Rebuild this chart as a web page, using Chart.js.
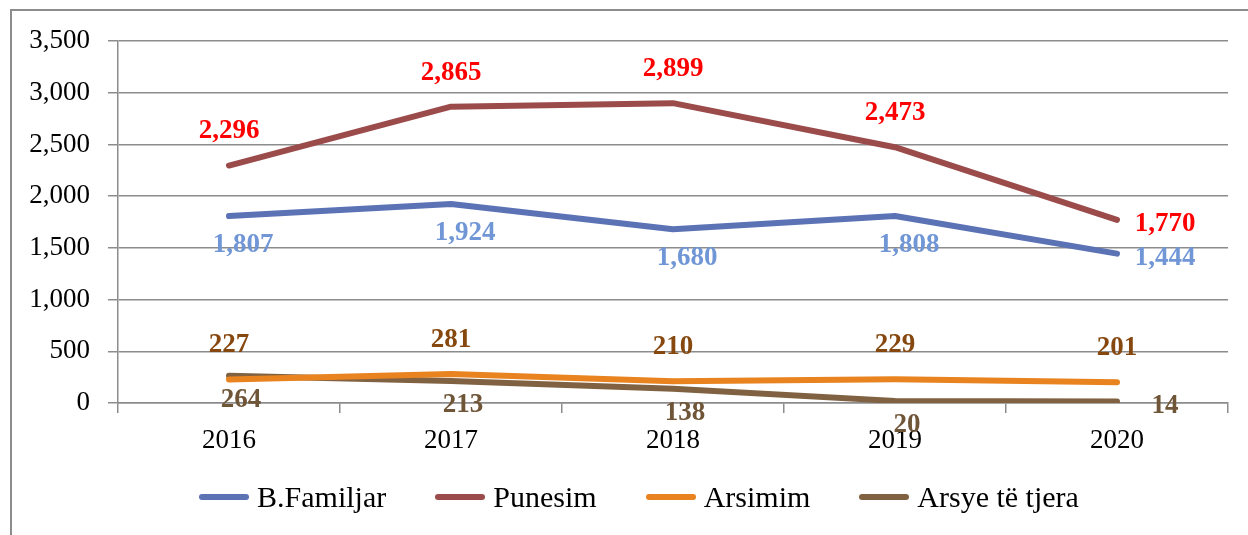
<!DOCTYPE html>
<html>
<head>
<meta charset="utf-8">
<script src="https://cdn.jsdelivr.net/npm/chart.js@4"></script>
<style>
  html, body { margin: 0; padding: 0; background: #fff; }
  #wrap { position: relative; width: 1248px; height: 535px; overflow: hidden; }
  #frame { position: absolute; left: 10px; top: 9px; width: 1300px; height: 600px; border: 2px solid #8c8c8c; }
  #chart { position: absolute; left: 0; top: 0; }
  #legend {
    position: absolute; left: 0; top: 478px; width: 1278px; height: 38px;
    display: flex; justify-content: center; align-items: center; gap: 49px;
    font-family: "Liberation Serif", "Times New Roman", serif; font-size: 30px; color: #000;
  }
  #legend .item { display: flex; align-items: center; white-space: nowrap; }
  #legend .swatch { width: 50px; height: 6px; border-radius: 3px; margin-right: 8px; }
</style>
</head>
<body>
<div id="wrap">
  <div id="frame"></div>
  <canvas id="chart" width="1248" height="535"></canvas>
  <div id="legend"></div>
</div>
<script>
const years = ['2016', '2017', '2018', '2019', '2020'];
const familjar = [1807, 1924, 1680, 1808, 1444];
const punesim = [2296, 2865, 2899, 2473, 1770];
const arsimim = [227, 281, 210, 229, 201];
const tjera = [264, 213, 138, 20, 14];
const yTicks = [0, 500, 1000, 1500, 2000, 2500, 3000, 3500];

const serif = '"Liberation Serif", "Times New Roman", serif';
Chart.defaults.font.family = serif;
Chart.defaults.color = '#000';

// where each value label sits relative to its point
const labelSpots = {
  above: { dx: 0, dy: -34 },
  below: { dx: 14, dy: 29 },
  under: { dx: 12, dy: 24 },
  right: { dx: 48, dy: 4 }
};

function series(label, data, line, text, spots) {
  return {
    label, data,
    borderColor: line,
    backgroundColor: line,
    borderWidth: 6,
    borderCapStyle: 'round',
    borderJoinStyle: 'round',
    pointRadius: 0,
    tension: 0,
    labelColor: text,
    labelSpots: spots
  };
}

const valueLabels = {
  id: 'valueLabels',
  afterDatasetsDraw(chart) {
    const ctx = chart.ctx;
    ctx.save();
    ctx.font = 'bold 27px ' + serif;
    ctx.textAlign = 'center';
    ctx.textBaseline = 'middle';
    chart.data.datasets.forEach((ds, i) => {
      const meta = chart.getDatasetMeta(i);
      ctx.fillStyle = ds.labelColor;
      meta.data.forEach((pt, j) => {
        const s = labelSpots[ds.labelSpots[j]];
        ctx.fillText(ds.data[j].toLocaleString('en-US'), pt.x + s.dx, pt.y + s.dy);
      });
    });
    ctx.restore();
  }
};

const chart = new Chart(document.getElementById('chart'), {
  type: 'line',
  data: {
    labels: years,
    datasets: [
      series('B.Familjar', familjar, '#5b72b5', '#7096d6', ['below', 'below', 'below', 'below', 'right']),
      series('Punesim', punesim, '#9c4b4b', '#ff0000', ['above', 'above', 'above', 'above', 'right']),
      series('Arsimim', arsimim, '#e8831f', '#86480f', ['above', 'above', 'above', 'above', 'above']),
      series('Arsye të tjera', tjera, '#806242', '#705638', ['under', 'under', 'under', 'under', 'right'])
    ]
  },
  options: {
    responsive: false,
    animation: false,
    layout: { padding: { left: 0, top: 41, right: 20, bottom: 78 } },
    plugins: {
      tooltip: { enabled: false },
      legend: { display: false }
    },
    scales: {
      x: {
        offset: true,
        grid: { offset: true, drawOnChartArea: false, tickLength: 10, color: '#8c8c8c', lineWidth: 1.5 },
        border: { color: '#8c8c8c', width: 1.5 },
        ticks: { color: '#000', padding: 12, font: { family: serif, size: 27 } },
        afterFit: s => { s.height = 54; }
      },
      y: {
        min: 0,
        max: 3500,
        afterBuildTicks: s => { s.ticks = yTicks.map(v => ({ value: v })); },
        grid: { color: '#8c8c8c', lineWidth: 1.5, tickLength: 10 },
        border: { color: '#8c8c8c', width: 1.5 },
        ticks: {
          color: '#000',
          padding: 18,
          font: { family: serif, size: 27 },
          callback: v => v.toLocaleString('en-US')
        },
        afterFit: s => { s.width = 118; }
      }
    }
  },
  plugins: [valueLabels]
});

// legend as real text, built from the chart's datasets
const legendBox = document.getElementById('legend');
chart.data.datasets.forEach(ds => {
  const item = document.createElement('div');
  item.className = 'item';
  const sw = document.createElement('span');
  sw.className = 'swatch';
  sw.style.background = ds.borderColor;
  const txt = document.createElement('span');
  txt.textContent = ds.label;
  item.appendChild(sw);
  item.appendChild(txt);
  legendBox.appendChild(item);
});
</script>
</body>
</html>
